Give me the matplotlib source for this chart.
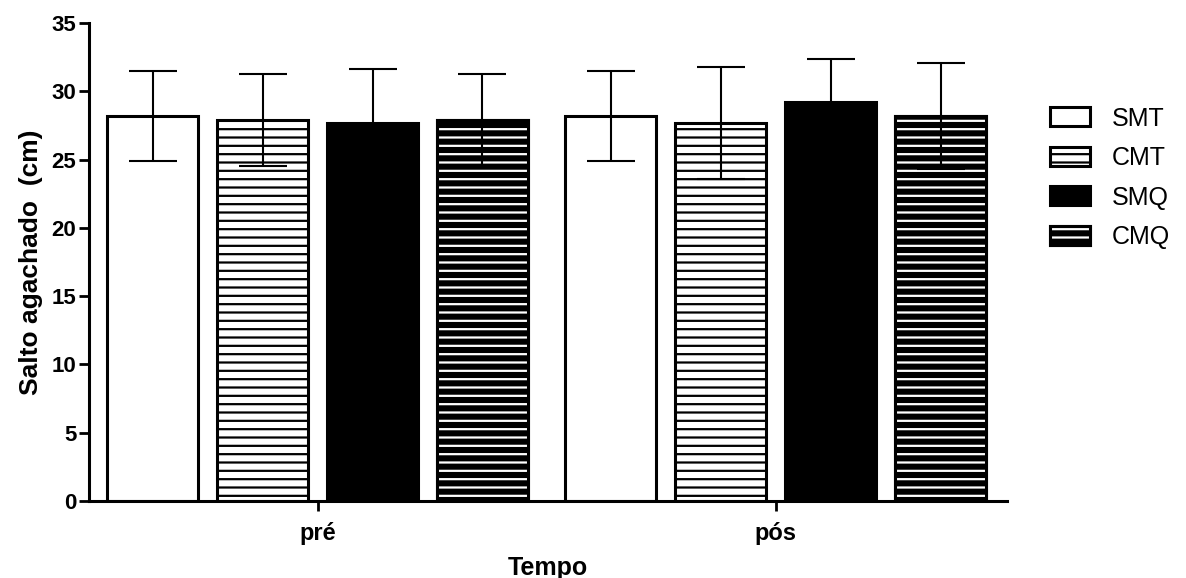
import numpy as np
import matplotlib
matplotlib.use("Agg")
import matplotlib.pyplot as plt
from matplotlib.patches import Patch

plt.rcParams["font.family"] = ["Liberation Sans", "DejaVu Sans"]
plt.rcParams["hatch.linewidth"] = 1.6

# Squat jump height, mean and SD per group
tempos = ["pré", "pós"]
grupos = ["SMT", "CMT", "SMQ", "CMQ"]
media = {
    "SMT": [28.2, 28.2],
    "CMT": [27.9, 27.7],
    "SMQ": [27.7, 29.2],
    "CMQ": [27.9, 28.2],
}
dp = {
    "SMT": [3.3, 3.3],
    "CMT": [3.4, 4.1],
    "SMQ": [3.9, 3.2],
    "CMQ": [3.4, 3.9],
}

fig = plt.figure(figsize=(11.86, 5.78), dpi=100)
ax = fig.add_axes([89 / 1186, 77 / 578, 918 / 1186, 478 / 578])

x = np.arange(len(tempos))
largura = 0.199
passo = 0.240
lw = 2.2

handles = []
for i, g in enumerate(grupos):
    pos = x + (i - 1.5) * passo
    if g == "SMT":
        ax.bar(pos, media[g], largura, facecolor="white", edgecolor="black", linewidth=lw, zorder=2)
        h = Patch(facecolor="white", edgecolor="black", linewidth=lw)
    elif g == "CMT":
        ax.bar(pos, media[g], largura, facecolor="white", edgecolor="black", hatch="--", linewidth=lw, zorder=2)
        h = Patch(facecolor="white", edgecolor="black", hatch="--", linewidth=lw)
    elif g == "SMQ":
        ax.bar(pos, media[g], largura, facecolor="black", edgecolor="black", linewidth=lw, zorder=2)
        h = Patch(facecolor="black", edgecolor="black", linewidth=lw)
    else:
        # black bar with white stripes, outline redrawn on top
        ax.bar(pos, media[g], largura, facecolor="black", edgecolor="black", linewidth=lw, zorder=2)
        ax.bar(pos, media[g], largura, fill=False, edgecolor="white", hatch="--", linewidth=0, zorder=2.1)
        ax.bar(pos, media[g], largura, fill=False, edgecolor="black", linewidth=lw, zorder=2.2)
        h = (Patch(facecolor="black", edgecolor="black", linewidth=lw),
             Patch(fill=False, edgecolor="white", hatch="--", linewidth=0),
             Patch(fill=False, edgecolor="black", linewidth=lw))
    ax.errorbar(pos, media[g], yerr=dp[g], fmt="none", ecolor="black",
                elinewidth=1.5, capsize=17, capthick=1.5, zorder=3)
    handles.append(h)

ax.set_ylim(0, 35)
ax.set_xlim(-0.499, 1.505)
ax.set_yticks(range(0, 36, 5))
ax.set_xticks(x)
ax.set_xticklabels(tempos)

for s in ["top", "right"]:
    ax.spines[s].set_visible(False)
for s in ["left", "bottom"]:
    ax.spines[s].set_linewidth(2.2)

ax.tick_params(axis="y", length=7, width=2, labelsize=16, pad=2)
ax.tick_params(axis="x", length=7, width=2, labelsize=17, pad=8)
for t in ax.get_yticklabels() + ax.get_xticklabels():
    t.set_fontweight("bold")

ax.set_ylabel("Salto agachado  (cm)", fontsize=19, fontweight="bold", labelpad=6)
ax.set_xlabel("Tempo", fontsize=18, fontweight="bold", labelpad=8)

fig.legend(handles, grupos, loc="upper left", bbox_to_anchor=(1027 / 1186, 1 - 84 / 578),
           frameon=False, fontsize=18, handlelength=1.6, handleheight=0.8,
           handletextpad=0.9, labelspacing=0.62)

fig.savefig("out.png", dpi=100)
